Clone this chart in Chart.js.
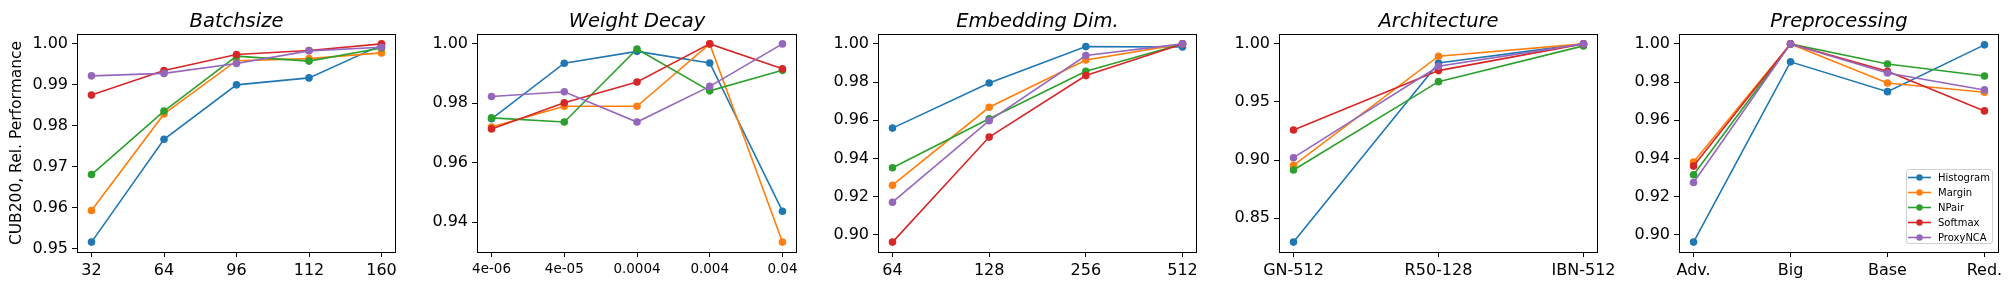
<!DOCTYPE html>
<html>
<head>
<meta charset="utf-8">
<script src="https://cdn.jsdelivr.net/npm/chart.js"></script>
<style>
body { margin: 0; width: 2016px; height: 288px; background: #fff; position: relative; overflow: hidden; font-family: "DejaVu Sans", sans-serif; }
canvas { position: absolute; top: 0; }
#legend { position: absolute; left: 1906px; top: 169px; width: 85px; height: 73px; border: 1px solid #d0d0d0; border-radius: 3px; background: rgba(255,255,255,0.8); font-size: 10px; color: #000; }
#legend .row { height: 15px; display: flex; align-items: center; }
#legend svg { margin-left: 1px; margin-right: 7px; }
</style>
</head>
<body>
<canvas id="c0"></canvas>
<canvas id="c1"></canvas>
<canvas id="c2"></canvas>
<canvas id="c3"></canvas>
<canvas id="c4"></canvas>
<div id="legend"></div>
<script>
// series (same order in every panel)
const seriesNames = ['Histogram', 'Margin', 'NPair', 'Softmax', 'ProxyNCA'];
const seriesColors = ['#1f77b4', '#ff7f0e', '#2ca02c', '#d62728', '#9467bd'];

// Batchsize
const batchLabels = ['32', '64', '96', '112', '160'];
const batchValues = [
    [0.9516, 0.9767, 0.9900, 0.9917, 0.9997],
    [0.9593, 0.9829, 0.9959, 0.9964, 0.9978],
    [0.9681, 0.9836, 0.9970, 0.9958, 0.9990],
    [0.9875, 0.9935, 0.9974, 0.9984, 1.0000],
    [0.9922, 0.9928, 0.9952, 0.9983, 0.9992]
];
const batchTicks = [0.95, 0.96, 0.97, 0.98, 0.99, 1.00];

// Weight Decay
const decayLabels = ['4e-06', '4e-05', '0.0004', '0.004', '0.04'];
const decayValues = [
    [0.9748, 0.9935, 0.9975, 0.9936, 0.9437],
    [0.9720, 0.9790, 0.9790, 1.0000, 0.9333],
    [0.9751, 0.9737, 0.9983, 0.9842, 0.9911],
    [0.9714, 0.9802, 0.9872, 1.0000, 0.9916],
    [0.9823, 0.9839, 0.9737, 0.9857, 1.0000]
];
const decayTicks = [0.94, 0.96, 0.98, 1.00];

// Embedding Dim.
const embedLabels = ['64', '128', '256', '512'];
const embedValues = [
    [0.9559, 0.9795, 0.9986, 0.9984],
    [0.9260, 0.9668, 0.9916, 1.0000],
    [0.9351, 0.9608, 0.9857, 1.0000],
    [0.8962, 0.9512, 0.9834, 1.0000],
    [0.9171, 0.9598, 0.9939, 1.0000]
];
const embedTicks = [0.90, 0.92, 0.94, 0.96, 0.98, 1.00];

// Architecture
const archLabels = ['GN-512', 'R50-128', 'IBN-512'];
const archValues = [
    [0.8293, 0.9836, 1.0000],
    [0.8954, 0.9894, 1.0000],
    [0.8914, 0.9675, 0.9983],
    [0.9259, 0.9770, 1.0000],
    [0.9020, 0.9807, 1.0000]
];
const archTicks = [0.85, 0.90, 0.95, 1.00];

// Preprocessing
const prepLabels = ['Adv.', 'Big', 'Base', 'Red.'];
const prepValues = [
    [0.8962, 0.9906, 0.9750, 0.9995],
    [0.9381, 1.0000, 0.9795, 0.9747],
    [0.9315, 1.0000, 0.9895, 0.9832],
    [0.9360, 1.0000, 0.9857, 0.9649],
    [0.9274, 1.0000, 0.9848, 0.9759]
];
const prepTicks = [0.90, 0.92, 0.94, 0.96, 0.98, 1.00];

const panels = [
    { title: 'Batchsize', labels: batchLabels, values: batchValues, ticks: batchTicks, xFont: 16, boxL: 77, boxR: 396, axisW: 77, yTitle: 'CUB200, Rel. Performance' },
    { title: 'Weight Decay', labels: decayLabels, values: decayValues, ticks: decayTicks, xFont: 13.5, boxL: 477, boxR: 797, axisW: 70 },
    { title: 'Embedding Dim.', labels: embedLabels, values: embedValues, ticks: embedTicks, xFont: 16, boxL: 878, boxR: 1197, axisW: 70 },
    { title: 'Architecture', labels: archLabels, values: archValues, ticks: archTicks, xFont: 16, boxL: 1279, boxR: 1598, axisW: 70 },
    { title: 'Preprocessing', labels: prepLabels, values: prepValues, ticks: prepTicks, xFont: 16, boxL: 1679, boxR: 1999, axisW: 70 }
];

const RIGHT_PAD = 34;

// box around the plot area (matplotlib spines)
const framePlugin = {
    id: 'frame',
    afterDatasetsDraw(chart) {
        const a = chart.chartArea, c = chart.ctx;
        c.save();
        c.strokeStyle = '#000';
        c.lineWidth = 1;
        c.strokeRect(Math.round(a.left) + 0.5, Math.round(a.top) + 0.5, Math.round(a.right - a.left) - 1, Math.round(a.bottom - a.top));
        c.restore();
    }
};

function makePanel(p, idx) {
    const canvas = document.getElementById('c' + idx);
    const left = p.boxL - p.axisW;
    const w = p.boxR - left + RIGHT_PAD;
    canvas.width = w;
    canvas.height = 288;
    canvas.style.left = left + 'px';

    let all = [];
    p.values.forEach(r => { all = all.concat(r); });
    let lo = Math.min(...all), hi = Math.max(...all);
    let m = (hi - lo) * 0.05;
    let n = p.labels.length;
    let xm = (n - 1) * 0.05;

    const datasets = p.values.map((row, i) => ({
        label: seriesNames[i],
        data: row.map((v, j) => ({ x: j, y: v })),
        borderColor: seriesColors[i],
        backgroundColor: seriesColors[i],
        borderWidth: 1.6,
        pointRadius: 3.8,
        pointBorderWidth: 0,
        pointHoverRadius: 3.8,
        order: 4 - i,
        clip: false,
        tension: 0
    }));

    return new Chart(canvas, {
        type: 'line',
        data: { datasets: datasets },
        plugins: [framePlugin],
        options: {
            responsive: false,
            animation: false,
            devicePixelRatio: 1,
            layout: { padding: { left: 0, right: RIGHT_PAD, top: 0, bottom: 0 } },
            plugins: {
                legend: { display: false },
                tooltip: { enabled: false },
                title: {
                    display: true,
                    text: p.title,
                    fullSize: false,
                    color: '#000',
                    font: { family: 'DejaVu Sans', size: 19.5, style: 'italic', weight: 'normal' },
                    padding: { top: 10, bottom: 0.6 }
                }
            },
            scales: {
                x: {
                    type: 'linear',
                    min: -xm,
                    max: n - 1 + xm,
                    afterBuildTicks: s => { s.ticks = p.labels.map((_, i) => ({ value: i })); },
                    afterFit: s => { s.height = 36; },
                    border: { display: false },
                    grid: { drawOnChartArea: false, drawTicks: true, tickLength: 5, color: '#000', lineWidth: 1 },
                    ticks: {
                        color: '#000',
                        padding: 4,
                        maxRotation: 0,
                        autoSkip: false,
                        font: { family: 'DejaVu Sans', size: p.xFont },
                        callback: v => p.labels[v]
                    }
                },
                y: {
                    type: 'linear',
                    min: lo - m,
                    max: hi + m,
                    afterBuildTicks: s => { s.ticks = p.ticks.map(v => ({ value: v })); },
                    afterFit: s => { s.width = p.axisW; },
                    border: { display: false },
                    grid: { drawOnChartArea: false, drawTicks: true, tickLength: 5, color: '#000', lineWidth: 1 },
                    ticks: {
                        color: '#000',
                        padding: 4,
                        font: { family: 'DejaVu Sans', size: 16 },
                        callback: v => v.toFixed(2)
                    },
                    title: {
                        display: !!p.yTitle,
                        text: p.yTitle || '',
                        color: '#000',
                        font: { family: 'DejaVu Sans', size: 15.5 },
                        padding: { top: 8, bottom: 0 }
                    }
                }
            }
        }
    });
}

panels.forEach((p, i) => makePanel(p, i));

// legend (inside the last panel, lower right)
const legendBox = document.getElementById('legend');
seriesNames.forEach((name, i) => {
    const row = document.createElement('div');
    row.className = 'row';
    row.innerHTML = '<svg width="23" height="15"><line x1="0" y1="7.5" x2="23" y2="7.5" stroke="' + seriesColors[i] +
        '" stroke-width="1.6"/><circle cx="11.5" cy="7.5" r="3.2" fill="' + seriesColors[i] + '"/></svg><span>' + name + '</span>';
    legendBox.appendChild(row);
});
</script>
</body>
</html>
